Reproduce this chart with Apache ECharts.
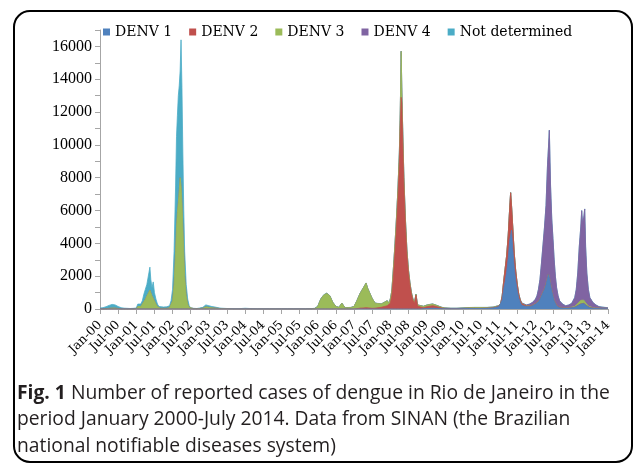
<!DOCTYPE html>
<html>
<head>
<meta charset="utf-8">
<script src="https://cdn.jsdelivr.net/npm/echarts@6/dist/echarts.min.js"></script>
<style>
  html, body { margin: 0; padding: 0; background: #fff; }
  #mainChart { width: 634px; height: 463px; }
</style>
</head>
<body>
<div id="mainChart"></div>
<script>
// x position of each sample, in months since Jan 2000 (shared by all series)
var months = [
  0,1,2,3,4,5,6,7,8,9,10,11,
  12,12.5,13,13.5,14,14.5,15,15.5,16,16.5,16.8,17.2,17.6,18,18.5,19,19.5,20,21,22,
  23,23.5,24,24.5,25,25.3,25.6,25.9,26.2,26.5,26.8,27.1,27.4,27.7,28,28.5,29,29.5,30,31,32,
  33,34,35,35.5,36,37,38,39,40,42,44,46,48,50,52,54,56,58,60,62,64,66,68,70,
  71,72,73,74,75,76,77,78,79,80,81,82,83,84,85,86,87,88,88.5,89,90,91,92,93,94,95,
  95.5,96,96.5,97,97.5,98,98.5,99,99.3,99.6,99.8,100.1,100.5,101,101.5,102,102.5,103,103.5,104,104.5,105,106,
  107,108,109,110,111,112,113,114,116,118,120,122,124,126,128,130,131,
  132,132.5,133,133.5,134,134.5,135,135.5,135.8,136.1,136.5,137,137.5,138,138.5,139,139.5,140,
  141,142,143,144,144.5,145,145.5,146,146.5,147,147.5,148,148.3,148.6,149,149.4,149.8,150.2,150.6,151,151.5,152,153,
  154,155,156,157,157.5,158,158.5,159,159.3,159.6,160,160.3,160.6,161,161.5,162,163,164,165,166,167,168
];

var denv1 = [
  0,0,0,0,0,0,0,0,0,0,0,0,
  0,0,0,0,0,0,0,0,0,0,0,0,0,0,0,0,0,0,0,0,
  0,0,0,0,0,0,0,0,0,0,0,0,0,0,0,0,0,0,0,0,0,
  0,0,0,0,0,0,0,0,0,0,0,0,0,0,0,0,0,0,0,0,0,0,0,0,
  0,0,0,0,0,0,0,0,0,0,0,0,0,0,0,0,0,0,0,0,0,0,0,0,0,0,
  0,0,0,0,0,0,0,0,0,0,0,0,0,0,0,0,0,0,0,0,0,0,0,
  20,30,40,50,40,30,20,10,10,10,20,30,30,30,40,60,100,
  150,250,550,1200,1700,2300,3100,4200,4500,4800,3700,2500,1700,1100,650,400,220,150,
  150,150,200,300,350,450,600,800,1000,1200,1500,1900,2100,1900,1500,1100,800,500,350,200,120,80,60,
  60,60,70,100,150,200,250,300,330,350,330,300,250,180,120,80,50,40,30,20,20,20
];

var denv2 = [
  0,0,0,0,0,0,0,0,0,0,0,0,
  0,0,0,0,0,0,0,0,0,0,0,0,0,0,0,0,0,0,0,0,
  0,0,0,0,0,0,0,0,0,0,0,0,0,0,0,0,0,0,0,0,0,
  0,0,0,0,0,0,0,0,0,0,0,0,0,0,0,0,0,0,0,0,0,0,0,0,
  0,0,0,0,0,0,0,0,0,0,0,0,0,0,20,50,60,80,70,60,40,50,80,100,150,200,
  150,350,800,1900,3300,4800,6600,8800,11000,12900,12500,10200,7500,5100,3300,2200,1450,900,530,330,850,180,120,
  60,100,130,150,120,80,40,20,10,10,10,10,10,10,10,10,20,
  40,80,230,480,780,980,1380,1980,2580,1480,1280,880,580,380,230,130,100,60,
  40,30,20,20,20,20,20,20,20,20,20,20,20,20,20,20,20,20,20,20,20,20,20,
  10,10,10,10,10,10,10,10,10,10,10,10,10,10,10,10,10,10,10,10,10,10
];

var denv3 = [
  0,0,20,40,60,60,30,0,0,0,0,0,
  20,150,200,150,250,450,600,800,900,1150,1000,800,700,500,300,150,60,40,40,40,
  80,200,500,1500,3500,5000,5900,6500,7200,8000,7500,6500,5000,3500,2000,800,300,100,30,20,15,
  30,50,130,150,100,70,60,40,20,10,5,5,5,5,5,5,5,5,5,5,5,5,5,10,
  30,150,600,850,950,800,400,150,100,350,80,80,90,150,500,900,1200,1500,1200,1000,600,300,250,200,250,300,
  200,250,300,500,500,600,600,700,1000,2800,1000,800,500,400,300,200,150,100,70,70,50,70,80,
  80,100,100,100,80,60,40,30,20,20,30,40,50,50,40,40,40,
  10,10,10,10,10,10,10,10,10,10,10,10,10,10,10,10,10,10,
  10,10,10,10,10,10,10,10,10,10,10,10,10,10,10,10,10,10,10,10,10,10,10,
  10,20,30,50,80,120,180,220,250,250,200,150,120,80,50,30,20,10,10,10,10,10
];

var denv4 = [
  0,0,0,0,0,0,0,0,0,0,0,0,
  0,0,0,0,0,0,0,0,0,0,0,0,0,0,0,0,0,0,0,0,
  0,0,0,0,0,0,0,0,0,0,0,0,0,0,0,0,0,0,0,0,0,
  0,0,0,0,0,0,0,0,0,0,0,0,0,0,0,0,0,0,0,0,0,0,0,0,
  0,0,0,0,0,0,0,0,0,0,0,0,0,0,0,0,0,0,0,0,0,0,0,0,0,0,
  0,0,0,0,0,0,0,0,0,0,0,0,0,0,0,0,0,0,0,0,0,0,0,
  0,0,0,0,0,0,0,0,0,0,0,0,0,0,0,0,0,
  0,0,0,0,0,0,0,0,0,0,0,0,0,0,10,20,30,40,
  40,100,160,260,410,710,1160,1960,2860,3760,4760,6860,7660,8960,5960,4360,3460,2460,1610,1060,640,380,200,
  110,150,230,530,950,1860,3350,4460,5400,4580,5050,5630,3410,1920,1010,570,310,180,90,70,50,30
];

var notDetermined = [
  60,80,120,180,220,190,120,80,50,40,30,40,
  40,150,220,150,250,450,600,700,700,1400,800,500,950,500,300,150,90,60,80,90,
  120,300,700,2000,4000,5500,5900,6500,6400,6500,8900,7000,4500,2500,1500,700,300,100,30,20,15,
  30,50,120,150,100,80,60,40,30,20,15,15,40,20,10,10,10,10,10,10,10,10,10,15,
  15,15,20,20,20,15,15,10,10,10,10,10,10,10,10,10,10,10,10,10,10,10,10,10,10,10,
  10,10,10,10,10,10,10,10,10,10,10,10,10,10,10,10,10,10,10,10,10,10,10,
  10,10,10,10,10,10,10,10,10,10,10,10,10,10,10,10,10,
  10,10,10,10,10,10,10,10,10,10,10,10,10,10,10,10,10,10,
  10,10,10,10,10,10,10,10,10,10,10,10,10,10,10,10,10,10,10,10,10,10,10,
  10,10,10,10,10,10,10,10,10,10,10,10,10,10,10,10,10,10,10,10,10,10
];

var seriesNames = ['DENV 1', 'DENV 2', 'DENV 3', 'DENV 4', 'Not determined'];
var seriesColors = ['#4f81bd', '#c0504d', '#9bbb59', '#8064a2', '#4bacc6'];

var tickLabels = ['Jan-00','Jul-00','Jan-01','Jul-01','Jan-02','Jul-02','Jan-03','Jul-03',
  'Jan-04','Jul-04','Jan-05','Jul-05','Jan-06','Jul-06','Jan-07','Jul-07','Jan-08','Jul-08',
  'Jan-09','Jul-09','Jan-10','Jul-10','Jan-11','Jul-11','Jan-12','Jul-12','Jan-13','Jul-13','Jan-14'];

var captionLines = [
  'Number of reported cases of dengue in Rio de Janeiro in the',
  'period January 2000-July 2014. Data from SINAN (the Brazilian',
  'national notifiable diseases system)'
];

var chart = echarts.init(document.getElementById('mainChart'));

// stack the layers by hand (a value x axis would make echarts stack along x);
// each area runs from 0 to its running total, lower layers drawn on top
var layers = [denv1, denv2, denv3, denv4, notDetermined];
var running = months.map(function () { return 0; });
var series = [];
layers.forEach(function (vals, k) {
  running = running.map(function (r, i) { return r + vals[i]; });
  var top = running.slice();
  series.unshift({
    name: seriesNames[k],
    type: 'line',
    symbol: 'none',
    z: 10 - k,
    data: months.map(function (m, i) { return [m, top[i]]; }),
    lineStyle: { width: 0.8, color: seriesColors[k] },
    areaStyle: { color: seriesColors[k], opacity: 1 },
    itemStyle: { color: seriesColors[k] }
  });
});

var option = {
  animation: false,
  backgroundColor: '#fff',
  legend: {
    data: seriesNames,
    left: 98,
    top: 20,
    icon: 'rect',
    itemWidth: 7,
    itemHeight: 7,
    itemGap: 17,
    textStyle: { fontFamily: 'DejaVu Serif', fontSize: 14, color: '#000' }
  },
  grid: { left: 100, right: 26, top: 30, bottom: 154 },
  xAxis: {
    type: 'value',
    min: 0,
    max: 168,
    interval: 6,
    splitLine: { show: false },
    axisLine: { lineStyle: { color: '#a6a6a6' } },
    axisTick: { lineStyle: { color: '#a6a6a6' }, length: 5 },
    axisLabel: {
      rotate: 45,
      fontFamily: 'DejaVu Serif',
      fontSize: 12.5,
      color: '#000',
      margin: 14,
      formatter: function (v) { return tickLabels[Math.round(v / 6)]; }
    }
  },
  yAxis: {
    type: 'value',
    min: 0,
    max: 17000,
    interval: 1000,
    splitLine: { show: false },
    axisLine: { show: true, lineStyle: { color: '#a6a6a6' } },
    axisTick: { show: true, lineStyle: { color: '#a6a6a6' }, length: 5 },
    axisLabel: {
      fontFamily: 'Liberation Serif',
      fontSize: 16,
      color: '#000',
      margin: 8,
      formatter: function (v) { return v % 2000 === 0 ? String(v) : ''; }
    }
  },
  title: {
    text: '{b|Fig. 1} ' + captionLines.join('\n'),
    left: 17,
    top: 380,
    padding: 0,
    textStyle: {
      fontFamily: 'Open Sans',
      fontSize: 19.3,
      fontWeight: 'normal',
      color: '#231f20',
      lineHeight: 26.5,
      rich: {
        b: { fontFamily: 'Open Sans', fontSize: 19.3, fontWeight: 'bold', color: '#231f20', lineHeight: 26.5 }
      }
    }
  },
  graphic: [{
    type: 'rect',
    shape: { x: 14, y: 11, width: 618, height: 451, r: 16 },
    style: { fill: null, stroke: '#000', lineWidth: 2 },
    silent: true
  }],
  series: series
};

chart.setOption(option);
</script>
</body>
</html>
